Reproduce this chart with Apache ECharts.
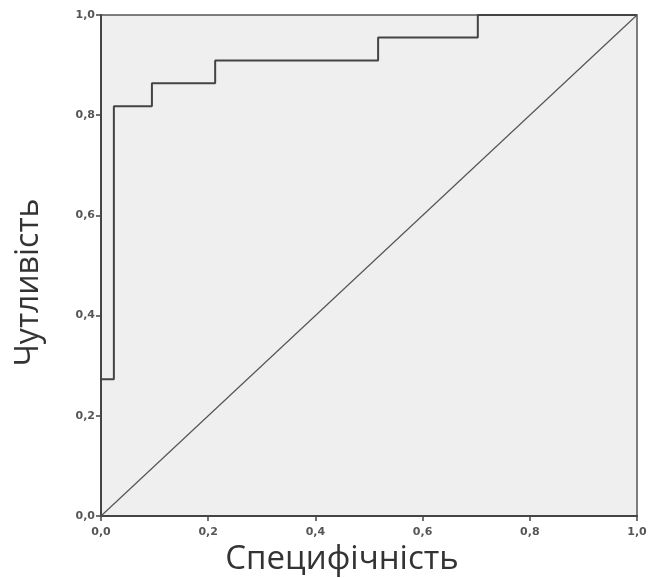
<!DOCTYPE html>
<html><head><meta charset="utf-8">
<script src="https://cdn.jsdelivr.net/npm/echarts@6/dist/echarts.min.js"></script>
<style>html,body{margin:0;padding:0;background:#fff}#c{width:651px;height:578px}</style>
</head><body><div id="c"></div>
<script>
// ROC curve vertices (1 - specificity, sensitivity)
const rocX = [0, 0, 0.024, 0.024, 0.095, 0.095, 0.213, 0.213, 0.517, 0.517, 0.703, 0.703, 1.0];
const rocY = [0, 0.273, 0.273, 0.818, 0.818, 0.864, 0.864, 0.909, 0.909, 0.955, 0.955, 1.0, 1.0];
// reference diagonal
const diagX = [0, 1];
const diagY = [0, 1];
const tickLabels = ['0,0', '0,2', '0,4', '0,6', '0,8', '1,0'];
const xTitle = 'Специфічність';
const yTitle = 'Чутливість';

const chart = echarts.init(document.getElementById('c'));
const fmt = v => tickLabels[Math.round(v * 5)];
const axisCommon = {
  type: 'value', min: 0, max: 1, interval: 0.2,
  splitLine: {show: false},
  axisLine: {show: true, lineStyle: {color: '#444', width: 2}},
  axisTick: {show: true, length: 5, lineStyle: {color: '#444', width: 1.5}},
  axisLabel: {formatter: fmt, color: '#555', fontSize: 11, fontWeight: 'bold', fontFamily: 'DejaVu Sans'}
};
chart.setOption({
  animation: false,
  grid: {left: 101, top: 15, right: 14, bottom: 62, containLabel: false, outerBoundsMode: 'none',
         show: true, backgroundColor: '#efefef', borderColor: '#555', borderWidth: 1.5},
  xAxis: Object.assign({}, axisCommon, {
    name: xTitle, nameLocation: 'middle', nameGap: 22,
    nameTextStyle: {fontSize: 33, color: '#333', fontFamily: 'Open Sans', padding: [0, 54, 0, 0]},
    axisLabel: Object.assign({}, axisCommon.axisLabel, {margin: 11})
  }),
  yAxis: Object.assign({}, axisCommon, {
    name: yTitle, nameLocation: 'middle', nameGap: 56,
    nameTextStyle: {fontSize: 32, color: '#333', fontFamily: 'Open Sans', padding: [0, 34, 0, 0]},
    axisLabel: Object.assign({}, axisCommon.axisLabel, {margin: 6})
  }),
  series: [
    {type: 'line', data: rocX.map((x, i) => [x, rocY[i]]), symbol: 'none',
     lineStyle: {color: '#444', width: 2}},
    {type: 'line', data: diagX.map((x, i) => [x, diagY[i]]), symbol: 'none',
     lineStyle: {color: '#555', width: 1.2}}
  ]
});
</script></body></html>
